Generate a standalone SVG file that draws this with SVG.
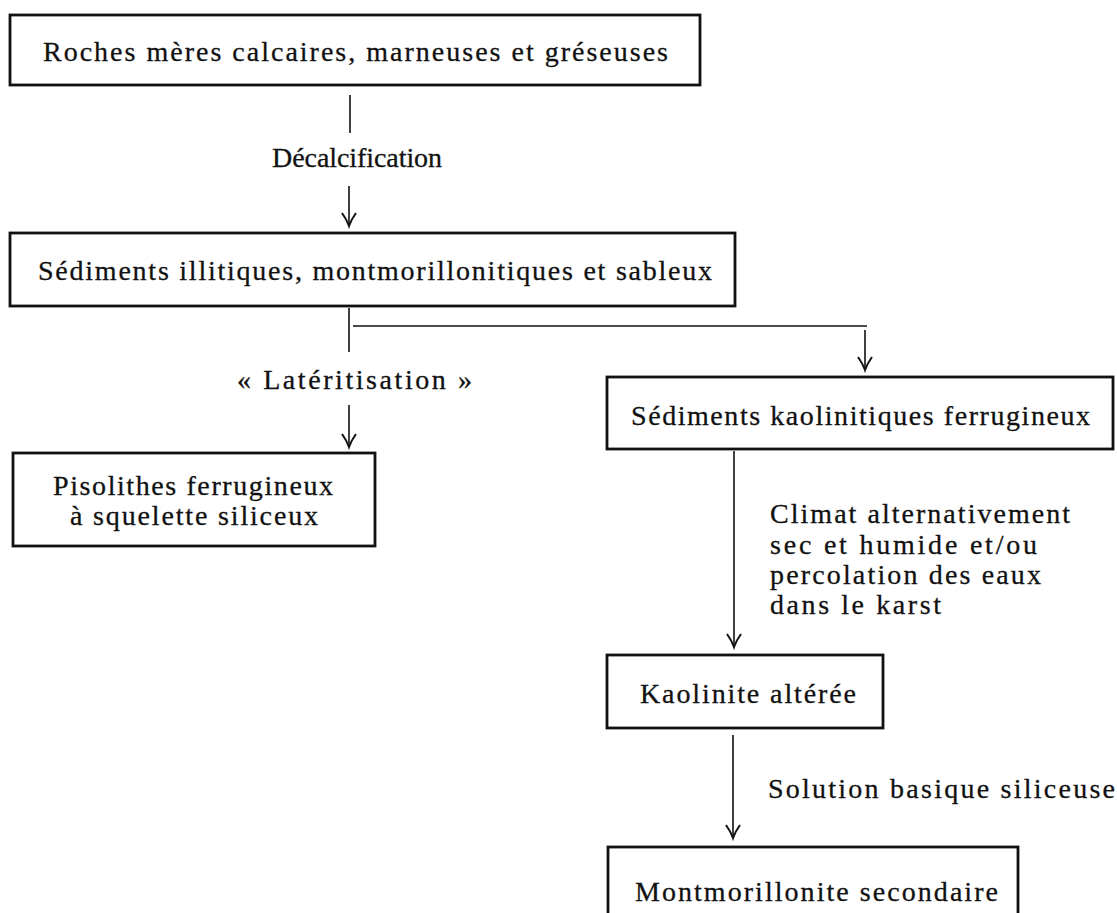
<svg xmlns="http://www.w3.org/2000/svg" width="1117" height="913" viewBox="0 0 1117 913">
<defs>
<style>
.box{fill:#fff;stroke:#111;stroke-width:2.8}
.t{font-family:"Liberation Serif","Times New Roman",serif;font-size:28px;fill:#111;stroke:#111;stroke-width:0.3}
.ln{fill:none;stroke:#111;stroke-width:1.6}
.ah{fill:none;stroke:#111;stroke-width:2;stroke-linejoin:miter}
</style>
<path id="head" class="ah" d="M -7 -13 Q -2 -6 0 0 Q 2 -6 7 -13"/>
</defs>
<rect width="1117" height="913" fill="#fff"/>
<g id="connectors">
<line class="ln" x1="350" y1="95" x2="350" y2="133"/>
<line class="ln" x1="349" y1="186" x2="349" y2="226"/>
<use href="#head" x="349" y="226"/>
<line class="ln" x1="349" y1="308" x2="349" y2="352"/>
<line class="ln" x1="353" y1="326" x2="867" y2="326"/>
<line class="ln" x1="865" y1="330" x2="865" y2="370"/>
<use href="#head" x="865" y="370"/>
<line class="ln" x1="349" y1="405" x2="349" y2="447"/>
<use href="#head" x="349" y="447"/>
<line class="ln" x1="734" y1="451" x2="734" y2="647"/>
<use href="#head" x="734" y="647"/>
<line class="ln" x1="733" y1="735" x2="733" y2="838"/>
<use href="#head" x="733" y="838"/>
<text class="t" x="272" y="167" textLength="170" lengthAdjust="spacing">Décalcification</text>
<text class="t" x="237" y="389" textLength="235" lengthAdjust="spacing">« Latéritisation »</text>
<text class="t" x="770" y="523" textLength="300" lengthAdjust="spacing">Climat alternativement</text>
<text class="t" x="770" y="554" textLength="267" lengthAdjust="spacing">sec et humide et/ou</text>
<text class="t" x="770" y="584" textLength="271" lengthAdjust="spacing">percolation des eaux</text>
<text class="t" x="770" y="614" textLength="171" lengthAdjust="spacing">dans le karst</text>
<text class="t" x="768" y="798" textLength="347" lengthAdjust="spacing">Solution basique siliceuse</text>
</g>
<g id="n1">
<rect class="box" x="10" y="15" width="690" height="70"/>
<text class="t" x="43" y="61" textLength="625" lengthAdjust="spacing">Roches mères calcaires, marneuses et gréseuses</text>
</g>
<g id="n2">
<rect class="box" x="10" y="233" width="725" height="73"/>
<text class="t" x="38" y="280" textLength="674" lengthAdjust="spacing">Sédiments illitiques, montmorillonitiques et sableux</text>
</g>
<g id="n3">
<rect class="box" x="13" y="453" width="362" height="93"/>
<text class="t" x="53" y="495" textLength="280" lengthAdjust="spacing">Pisolithes ferrugineux</text>
<text class="t" x="70" y="525" textLength="248" lengthAdjust="spacing">à squelette siliceux</text>
</g>
<g id="n4">
<rect class="box" x="607" y="377" width="506" height="72"/>
<text class="t" x="631" y="425" textLength="459" lengthAdjust="spacing">Sédiments kaolinitiques ferrugineux</text>
</g>
<g id="n5">
<rect class="box" x="607" y="655" width="276" height="73"/>
<text class="t" x="640" y="703" textLength="216" lengthAdjust="spacing">Kaolinite altérée</text>
</g>
<g id="n6">
<rect class="box" x="608" y="847" width="410" height="90"/>
<text class="t" x="635" y="901" textLength="363" lengthAdjust="spacing">Montmorillonite secondaire</text>
</g>
</svg>
